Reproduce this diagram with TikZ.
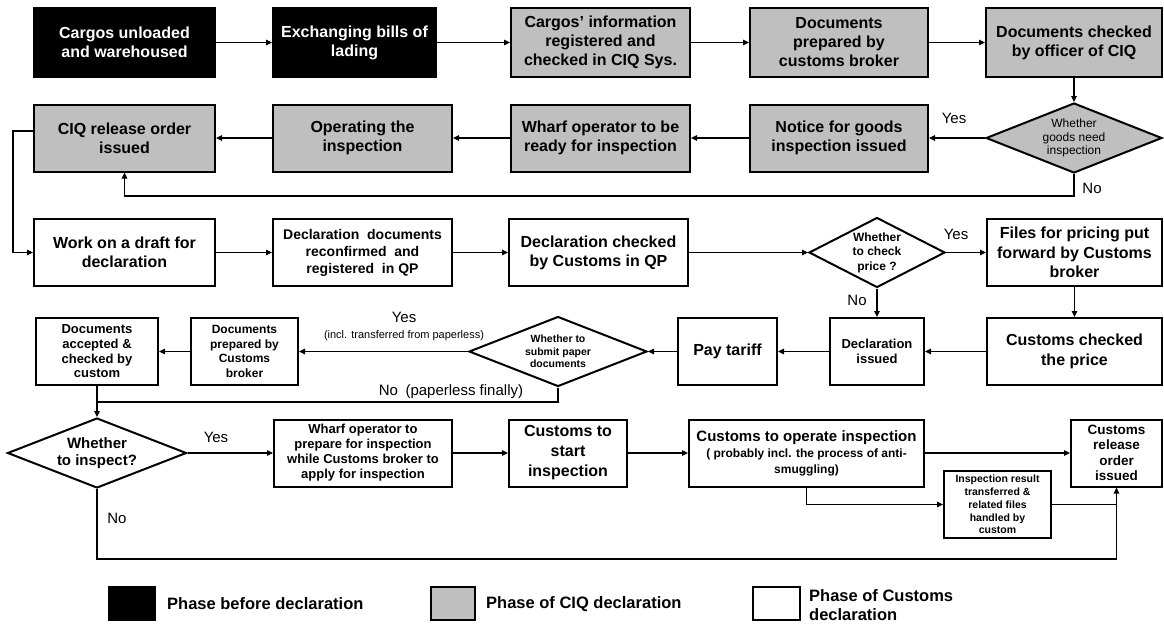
\documentclass[tikz,border=0pt]{standalone}
\usepackage{fontspec}
\setmainfont{Liberation Sans}
\usetikzlibrary{shapes.geometric,arrows.meta,calc}
\definecolor{ciq}{RGB}{191,191,191}
\newcommand{\myfs}[2]{\fontsize{#1}{#2}\selectfont}
\begin{document}
\begin{tikzpicture}[x=1pt,y=-1pt,
  box/.style={draw, line width=2pt, inner sep=0pt, align=center, font=\bfseries\myfs{16}{19}},
  blk/.style={box, fill=black, text=white},
  ciqbox/.style={box, fill=ciq},
  cusbox/.style={box, fill=white},
  dia/.style={draw, diamond, line width=2pt, inner sep=0pt, align=center},
  line/.style={draw, line width=1.1pt},
  arr/.style={line, -{Triangle[length=6pt,width=5.5pt]}},
  lbl/.style={inner sep=0pt, font=\myfs{15}{17}},
  slbl/.style={inner sep=0pt, font=\myfs{11}{13}},
  legtxt/.style={inner sep=0pt, anchor=west, align=left, font=\bfseries\myfs{16.5}{19}},
]
\useasboundingbox (0,0) rectangle (1164,625);

% Row 1
\node[blk, minimum width=181pt, minimum height=69pt] (A) at (124.5,42.5) {Cargos unloaded\\and warehoused};
\node[blk, minimum width=163pt, minimum height=69pt] (B) at (354.5,42.5) {Exchanging bills of\\lading};
\node[ciqbox, minimum width=179pt, minimum height=69pt] (C) at (600.5,42.5) {Cargos' information\\registered and\\checked in CIQ Sys.};
\node[ciqbox, minimum width=178pt, minimum height=69pt] (D) at (839,42.5) {Documents\\prepared by\\customs broker};
\node[ciqbox, minimum width=176pt, minimum height=69pt] (E) at (1074,42.5) {Documents checked\\by officer of CIQ};

% Row 2
\node[ciqbox, minimum width=181pt, minimum height=67pt] (CIQrel) at (124.5,138) {CIQ release order\\issued};
\node[ciqbox, minimum width=179pt, minimum height=67pt] (Oper) at (362.5,138) {Operating the\\inspection};
\node[ciqbox, minimum width=179pt, minimum height=67pt] (WharfR) at (600.5,138) {Wharf operator to be\\ready for inspection};
\node[ciqbox, minimum width=178pt, minimum height=67pt] (Notice) at (839,138) {Notice for goods\\inspection issued};
\node[dia, fill=ciq, shape aspect=2.5, minimum width=176pt, minimum height=70pt, font=\myfs{12}{13.5}] (d1) at (1074,138) {Whether\\goods need\\inspection};

% Row 3
\node[cusbox, minimum width=181pt, minimum height=67pt] (Work) at (124.5,252.5) {Work on a draft for\\declaration};
\node[cusbox, minimum width=179pt, minimum height=67pt, font=\bfseries\myfs{14}{17}] (DeclDocs) at (362.5,252.5) {Declaration\ \ documents\\reconfirmed\ \ and\\registered\ \ in QP};
\node[cusbox, minimum width=179pt, minimum height=67pt] (DeclChk) at (598.5,252.5) {Declaration checked\\by Customs in QP};
\node[dia, fill=white, shape aspect=1.94, minimum width=136pt, minimum height=70pt, font=\bfseries\myfs{12}{14.5}] (d2) at (877,252.5) {Whether\\to check\\price ?};
\node[cusbox, minimum width=175pt, minimum height=67pt, font=\bfseries\myfs{16}{19.5}] (Files) at (1074.5,252.5) {Files for pricing put\\forward by Customs\\broker};

% Row 4
\node[cusbox, minimum width=175pt, minimum height=67pt, font=\bfseries\myfs{16}{20}] (CustChk) at (1074.5,351.5) {Customs checked\\the price};
\node[cusbox, minimum width=94pt, minimum height=67pt, font=\bfseries\myfs{13}{15.5}] (DeclIss) at (877,351.5) {Declaration\\issued};
\node[cusbox, minimum width=99pt, minimum height=67pt] (Pay) at (727.5,351.5) {Pay tariff};
\node[dia, fill=white, shape aspect=2.54, minimum width=178pt, minimum height=70pt, font=\bfseries\myfs{10.5}{12.5}] (d3) at (558,351.5) {Whether to\\submit paper\\documents};
\node[cusbox, minimum width=107pt, minimum height=67pt, font=\bfseries\myfs{12}{14.5}] (DocPrep) at (244.5,351.5) {Documents\\prepared by\\Customs\\broker};
\node[cusbox, minimum width=122pt, minimum height=67pt, font=\bfseries\myfs{13}{14.7}] (DocAcc) at (97,351.5) {Documents\\accepted \&\\checked by\\custom};

% Row 5
\node[dia, fill=white, shape aspect=2.56, minimum width=179pt, minimum height=70pt, font=\bfseries\myfs{15}{17.5}] (d4) at (97,453) {Whether\\to inspect?};
\node[cusbox, minimum width=178pt, minimum height=67pt, font=\bfseries\myfs{13}{15}] (WharfP) at (363,453) {Wharf operator to\\prepare for inspection\\while\ Customs broker to\\apply for\ inspection};
\node[cusbox, minimum width=118pt, minimum height=67pt, font=\bfseries\myfs{16}{20}] (Start) at (568,453) {Customs to\\start\\inspection};
\node[cusbox, minimum width=235pt, minimum height=67pt, font=\bfseries\myfs{15}{16}] (Oper2) at (806.5,453) {Customs to operate inspection\\\myfs{12}{15}( probably incl. the process of anti-\\\myfs{12}{15}smuggling)};
\node[cusbox, minimum width=91pt, minimum height=67pt, font=\bfseries\myfs{13.5}{15.5}] (Release) at (1116.5,453) {Customs\\release\\order\\issued};
\node[cusbox, minimum width=107pt, minimum height=67pt, font=\bfseries\myfs{10.5}{12.8}] (InspRes) at (997.5,504.5) {Inspection result\\transferred \&\\related files\\handled by\\custom};

% Connectors row 1
\draw[arr] (A.east) -- (B.west);
\draw[arr] (B.east) -- (C.west);
\draw[arr] (C.east) -- (D.west);
\draw[arr] (D.east) -- (E.west);
\draw[arr] (E.south) -- (d1.north);
% row 2
\draw[arr] (d1.west) -- (Notice.east);
\draw[arr] (Notice.west) -- (WharfR.east);
\draw[arr] (WharfR.west) -- (Oper.east);
\draw[arr] (Oper.west) -- (CIQrel.east);
\coordinate (nb1) at (1074,196);
\coordinate (nb2) at (124.5,196);
\draw[arr] (d1.south) -- (nb1) -- (nb2) -- (CIQrel.south);
\coordinate (lw1) at (13,131);
\coordinate (lw2) at (13,252.5);
\draw[arr] (CIQrel.west |- lw1) -- (lw1) -- (lw2) -- (Work.west);
% row 3
\draw[arr] (Work.east) -- (DeclDocs.west);
\draw[arr] (DeclDocs.east) -- (DeclChk.west);
\draw[arr] (DeclChk.east) -- (d2.west);
\draw[arr] (d2.east) -- (Files.west);
\draw[arr] (d2.south) -- (DeclIss.north);
\draw[arr] (Files.south) -- (CustChk.north);
% row 4
\draw[arr] (CustChk.west) -- (DeclIss.east);
\draw[arr] (DeclIss.west) -- (Pay.east);
\draw[arr] (Pay.west) -- (d3.east);
\draw[arr] (d3.west) -- (DocPrep.east);
\draw[arr] (DocPrep.west) -- (DocAcc.east);
\coordinate (pl1) at (558,402);
\coordinate (pl2) at (97,402);
\draw[arr] (d3.south) -- (pl1) -- (pl2) -- (d4.north);
\draw[line] (DocAcc.south) -- (pl2);
% row 5
\draw[arr] (d4.east) -- (WharfP.west);
\draw[arr] (WharfP.east) -- (Start.west);
\draw[arr] (Start.east) -- (Oper2.west);
\draw[arr] (Oper2.east) -- (Release.west);
\draw[arr] (Oper2.south) |- (InspRes.west);
\draw[arr] (InspRes.east) -| (Release.south);
\coordinate (nl1) at (97,559);
\coordinate (nl2) at (1116.5,559);
\draw[line] (d4.south) -- (nl1) -- (nl2) -- (Release.south |- InspRes.east);

% Labels
\node[lbl] (y1) at (954,118) {Yes};
\node[lbl] (n1) at (1092,188) {No};
\node[lbl] (y2) at (956,234) {Yes};
\node[lbl] (n2) at (857,300) {No};
\node[lbl] (y3) at (404,317) {Yes};
\node[slbl] (y3b) at (404,336) {(incl. transferred from paperless)};
\node[lbl] (n3) at (451,392) {No\hspace{0.5em}(paperless finally)};
\node[lbl] (y4) at (216,437) {Yes};
\node[lbl] (n4) at (117,518) {No};

% Legend
\node[draw, line width=1.5pt, fill=black, minimum width=47pt, minimum height=33pt, inner sep=0pt] (leg1) at (132,603.5) {};
\node[legtxt] (leg1t) at (167,604) {Phase before declaration};
\node[draw, line width=1.5pt, fill=ciq, minimum width=44pt, minimum height=33pt, inner sep=0pt] (leg2) at (453,603.5) {};
\node[legtxt] (leg2t) at (486,604) {Phase of CIQ declaration};
\node[draw, line width=1.5pt, fill=white, minimum width=47pt, minimum height=33pt, inner sep=0pt] (leg3) at (776.5,603.5) {};
\node[legtxt] (leg3t) at (809,605) {Phase of Customs\\declaration};
\end{tikzpicture}
\end{document}
